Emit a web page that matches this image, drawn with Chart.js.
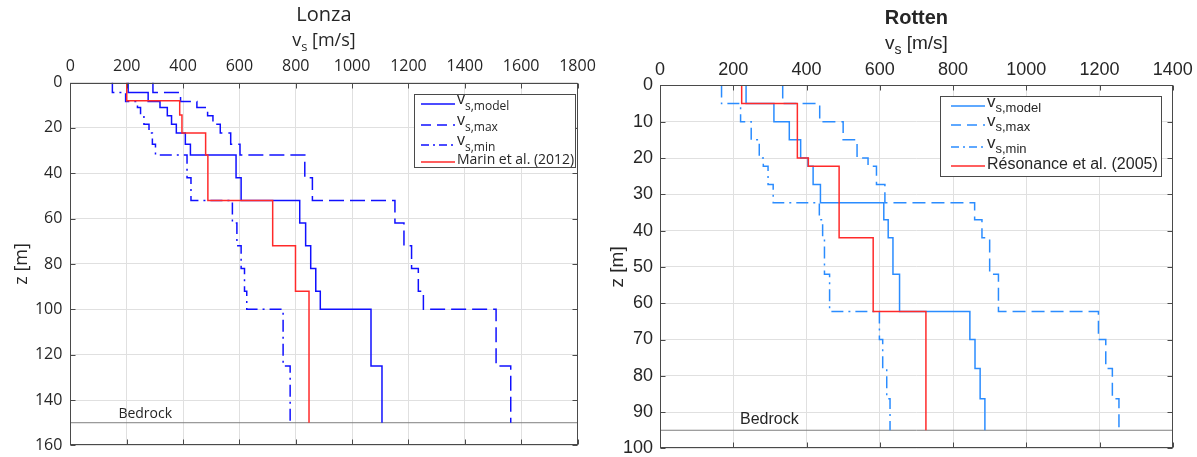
<!DOCTYPE html>
<html><head><meta charset="utf-8">
<script src="https://cdn.jsdelivr.net/npm/chart.js@4/dist/chart.umd.min.js"></script>
<style>
html,body{margin:0;padding:0;background:#fff;width:1197px;height:457px;overflow:hidden}
#c1{position:absolute;left:0;top:0}
#c2{position:absolute;left:600px;top:0}
</style></head><body>
<canvas id="c1" width="600" height="457"></canvas>
<canvas id="c2" width="597" height="457"></canvas>
<script>
// ---------- Lonza ----------
const lonzaDepth = [0, 4.4, 8.4, 11, 14.7, 18.4, 22.3, 27.2, 32, 42, 52, 62, 72, 82, 92, 100, 125, 150];
const lonzaModel = [205, 276, 318, 344, 359, 376, 408, 426, 588, 606, 814, 835, 853, 871, 887, 1067, 1106];
const lonzaMax   = [293, 391, 449, 487, 506, 532, 569, 602, 832, 859, 1152, 1184, 1211, 1235, 1253, 1511, 1563];
const lonzaMin   = [149, 196, 238, 249, 261, 279, 291, 302, 414, 428, 575, 591, 606, 618, 626, 755, 780];
const marinDepth = [0, 8, 14.3, 22.3, 32, 52, 72, 92, 150];
const marinVs    = [200, 388, 396, 480, 488, 718, 799, 847];
const lonzaBedrock = 150;
const lonzaXTicks = [0, 200, 400, 600, 800, 1000, 1200, 1400, 1600, 1800];
const lonzaZTicks = [0, 20, 40, 60, 80, 100, 120, 140, 160];

// ---------- Rotten ----------
const rottenDepth = [0, 5, 10, 15, 20, 22.3, 27.3, 32.3, 37, 42, 52, 62.3, 70, 78, 86.3, 95];
const rottenModel = [235, 311, 353, 384, 404, 418, 438, 611, 623, 636, 654, 846, 860, 874, 887];
const rottenMax   = [335, 436, 500, 538, 568, 591, 614, 859, 879, 900, 924, 1197, 1217, 1235, 1253];
const rottenMin   = [168, 220, 249, 271, 282, 295, 309, 435, 444, 449, 463, 599, 608, 619, 628];
const resonanceDepth = [0, 5, 20, 22.3, 42, 62.3, 95];
const resonanceVs    = [223, 375, 405, 489, 582, 726];
const rottenBedrock = 95;
const rottenXTicks = [0, 200, 400, 600, 800, 1000, 1200, 1400];
const rottenZTicks = [0, 10, 20, 30, 40, 50, 60, 70, 80, 90, 100];

// step profile: each layer drawn as vertical segment, joined by horizontal steps
function profile(depths, values) {
  const pts = [];
  values.forEach((v, i) => { pts.push({x: v, y: depths[i]}); pts.push({x: v, y: depths[i + 1]}); });
  return pts;
}

const decor = {
  id: 'decor',
  afterDatasetsDraw(chart, args, o) {
    const {ctx, chartArea: a, scales} = chart;
    const xs = scales.x, ys = scales.y;
    ctx.save();
    // bedrock label
    ctx.fillStyle = o.textColor; ctx.font = o.bedrockFont;
    ctx.textAlign = 'left'; ctx.textBaseline = 'alphabetic';
    ctx.fillText('Bedrock', a.left + o.bedrockDx, ys.getPixelForValue(o.bedrockDepth) - o.bedrockDy);
    // box + inward ticks
    ctx.strokeStyle = o.boxColor; ctx.lineWidth = 1;
    const L = Math.round(a.left) + 0.5, R = Math.round(a.right) - 0.5, T = Math.round(a.top) + 0.5, B = Math.round(a.bottom) - 0.5;
    ctx.strokeRect(L, T, R - L, B - T);
    ctx.beginPath();
    xs.ticks.forEach(t => { const p = Math.round(xs.getPixelForValue(t.value)) + 0.5;
      ctx.moveTo(p, T); ctx.lineTo(p, T + o.tickLen); ctx.moveTo(p, B); ctx.lineTo(p, B - o.tickLen); });
    ys.ticks.forEach(t => { const p = Math.round(ys.getPixelForValue(t.value)) + 0.5;
      ctx.moveTo(L, p); ctx.lineTo(L + o.tickLen, p); ctx.moveTo(R, p); ctx.lineTo(R - o.tickLen, p); });
    ctx.stroke();
    // legend
    const lg = o.legend;
    ctx.fillStyle = '#fff'; ctx.fillRect(lg.x, lg.y, lg.w, lg.h);
    ctx.strokeStyle = o.boxColor; ctx.lineWidth = 1;
    ctx.strokeRect(lg.x + 0.5, lg.y + 0.5, lg.w, lg.h);
    chart.data.datasets.filter(d => d.legendMain).sort((p, q) => p.legendIndex - q.legendIndex).forEach((d, i) => {
      const ly = lg.y + lg.rows[i];
      ctx.save();
      ctx.strokeStyle = d.borderColor; ctx.lineWidth = d.borderWidth;
      ctx.setLineDash(d.legendDash || []);
      ctx.beginPath(); ctx.moveTo(lg.x + lg.lineX0, ly); ctx.lineTo(lg.x + lg.lineX1, ly); ctx.stroke();
      ctx.restore();
      let tx = lg.x + lg.textX;
      ctx.fillStyle = o.textColor; ctx.textAlign = 'left';
      if (d.legendSub) {
        ctx.textBaseline = 'alphabetic';
        ctx.font = lg.mainFont; ctx.fillText(d.legendMain, tx, ly + lg.mainDy);
        tx += ctx.measureText(d.legendMain).width;
        ctx.font = lg.subFont; ctx.fillText(d.legendSub, tx, ly + lg.subDy);
      } else {
        ctx.textBaseline = 'middle'; ctx.font = lg.textFont;
        ctx.fillText(d.legendMain, tx, ly + lg.textDy);
      }
    });
    ctx.restore();
  },
  afterDraw(chart, args, o) {
    const {ctx, chartArea: a} = chart;
    const cx = (a.left + a.right) / 2;
    ctx.save();
    ctx.fillStyle = o.textColor;
    ctx.textAlign = 'center'; ctx.textBaseline = 'middle';
    ctx.font = o.titleFont; ctx.fillText(o.title, cx, o.titleY);
    // x axis title with subscript
    ctx.font = o.axisFont; const m = ctx.measureText('v').width; const r = ctx.measureText(' [m/s]').width;
    ctx.font = o.axisSubFont; const s = ctx.measureText('s').width;
    const x0 = cx - (m + s + r) / 2;
    ctx.textAlign = 'left'; ctx.textBaseline = 'alphabetic';
    ctx.font = o.axisFont; ctx.fillText('v', x0, o.axisY);
    ctx.font = o.axisSubFont; ctx.fillText('s', x0 + m, o.axisY + o.subDrop);
    ctx.font = o.axisFont; ctx.fillText(' [m/s]', x0 + m + s, o.axisY);
    // y axis title
    ctx.translate(o.yTitleX, (a.top + a.bottom) / 2);
    ctx.rotate(-Math.PI / 2);
    ctx.textAlign = 'center'; ctx.textBaseline = 'middle';
    ctx.font = o.axisFont; ctx.fillText('z [m]', 0, 0);
    ctx.restore();
  }
};

function makeChart(id, cfg) {
  const ds = (label, sub, depths, vals, color, dash, order, li) => ({
    label: label + (sub || ''), legendMain: label, legendSub: sub, legendIndex: li,
    data: profile(depths, vals), showLine: true, borderColor: color, backgroundColor: color,
    borderWidth: 1.5, borderDash: dash, legendDash: cfg.legendDash[li], pointRadius: 0, tension: 0, order: order,
    borderJoinStyle: 'miter', borderCapStyle: 'butt'
  });
  const datasets = [
    ds('v', 's,model', cfg.depth, cfg.model, cfg.blue, [], 3, 0),
    ds('v', 's,max', cfg.depth, cfg.max, cfg.blue, cfg.dash, 2, 1),
    ds('v', 's,min', cfg.depth, cfg.min, cfg.blue, cfg.dashDot, 1, 2),
    ds(cfg.refLabel, null, cfg.refDepth, cfg.refVs, cfg.red, [], 0, 3),
    { label: 'bedrock', data: [{x: cfg.xTicks[0], y: cfg.bedrock}, {x: cfg.xTicks[cfg.xTicks.length - 1], y: cfg.bedrock}],
      showLine: true, borderColor: '#7f7f7f', borderWidth: 1, pointRadius: 0, order: 9 }
  ];
  const tickFont = {family: cfg.family, size: cfg.tickSize};
  return new Chart(document.getElementById(id), {
    type: 'scatter',
    data: {datasets},
    options: {
      responsive: false, animation: false, devicePixelRatio: 1,
      events: [],
      layout: {padding: cfg.padding},
      scales: {
        x: {
          type: 'linear', position: 'top', min: cfg.xTicks[0], max: cfg.xTicks[cfg.xTicks.length - 1],
          afterBuildTicks: s => { s.ticks = cfg.xTicks.map(v => ({value: v})); },
          afterFit: s => { s.height = cfg.areaTop; s.paddingLeft = 0; s.paddingRight = 0; },
          grid: {color: '#e0e0e0', drawTicks: false, lineWidth: 1},
          border: {display: false},
          ticks: {font: tickFont, color: '#262626', padding: cfg.xPad, maxRotation: 0, autoSkip: false,
            callback: v => String(v)}
        },
        y: {
          type: 'linear', reverse: true, min: cfg.zTicks[0], max: cfg.zTicks[cfg.zTicks.length - 1],
          afterBuildTicks: s => { s.ticks = cfg.zTicks.map(v => ({value: v})); },
          afterFit: s => { s.width = cfg.areaLeft; s.paddingTop = 0; s.paddingBottom = 0; },
          grid: {color: '#e0e0e0', drawTicks: false, lineWidth: 1},
          border: {display: false},
          ticks: {font: tickFont, color: '#262626', padding: cfg.yPad, autoSkip: false,
            callback: v => String(v)}
        }
      },
      plugins: {
        legend: {display: false}, tooltip: {enabled: false}, title: {display: false},
        decor: cfg.decor
      }
    },
    plugins: [decor]
  });
}

makeChart('c1', {
  depth: lonzaDepth, model: lonzaModel, max: lonzaMax, min: lonzaMin,
  refDepth: marinDepth, refVs: marinVs, refLabel: 'Marin et al. (2012)', bedrock: lonzaBedrock,
  xTicks: lonzaXTicks, zTicks: lonzaZTicks,
  blue: '#1010ff', red: '#ff2a2a', dash: [15, 6], dashDot: [12, 5, 2, 5],
  legendDash: [[], [10, 6], [8, 4, 2, 4], []],
  family: "'Open Sans', sans-serif", tickSize: 16, xPad: 6, yPad: 8,
  areaLeft: 70.4, areaTop: 82.5, padding: {left: 0, top: 0, right: 22.5, bottom: 11.6},
  decor: {
    textColor: '#262626', boxColor: '#4a4a4a', tickLen: 5,
    title: 'Lonza', titleFont: "20px 'Open Sans', sans-serif", titleY: 15,
    axisFont: "18px 'Open Sans', sans-serif", axisSubFont: "13px 'Open Sans', sans-serif", axisY: 46, subDrop: 5,
    yTitleX: 22,
    bedrockFont: "14px 'Open Sans', sans-serif", bedrockDx: 48, bedrockDy: 5, bedrockDepth: lonzaBedrock,
    legend: {x: 414, y: 94, w: 161, h: 73, rows: [10, 31, 51, 68], lineX0: 7, lineX1: 41, textX: 43,
      mainFont: "16px 'Open Sans', sans-serif", subFont: "12px 'Open Sans', sans-serif", mainDy: 0, subDy: 6,
      textFont: "14px 'Open Sans', sans-serif", textDy: -2}
  }
});

makeChart('c2', {
  depth: rottenDepth, model: rottenModel, max: rottenMax, min: rottenMin,
  refDepth: resonanceDepth, refVs: resonanceVs, refLabel: 'Résonance et al. (2005)', bedrock: rottenBedrock,
  xTicks: rottenXTicks, zTicks: rottenZTicks,
  blue: '#2a8cff', red: '#ff2a2a', dash: [13, 6], dashDot: [12, 5, 2, 5],
  legendDash: [[], [10, 6], [8, 4, 2, 4], []],
  family: "'Liberation Sans', Arial, sans-serif", tickSize: 18, xPad: 5, yPad: 7,
  areaLeft: 60, areaTop: 85.4, padding: {left: 0, top: 0, right: 24.2, bottom: 8.6},
  decor: {
    textColor: '#262626', boxColor: '#4a4a4a', tickLen: 5,
    title: 'Rotten', titleFont: "bold 20px 'Liberation Sans', Arial, sans-serif", titleY: 18,
    axisFont: "19px 'Liberation Sans', Arial, sans-serif", axisSubFont: "14px 'Liberation Sans', Arial, sans-serif", axisY: 49, subDrop: 5,
    yTitleX: 18,
    bedrockFont: "16px 'Liberation Sans', Arial, sans-serif", bedrockDx: 80, bedrockDy: 6, bedrockDepth: rottenBedrock,
    legend: {x: 340, y: 96, w: 221, h: 80, rows: [10, 29, 51, 70], lineX0: 11, lineX1: 45, textX: 47,
      mainFont: "17px 'Liberation Sans', Arial, sans-serif", subFont: "13px 'Liberation Sans', Arial, sans-serif", mainDy: 1, subDy: 6,
      textFont: "16px 'Liberation Sans', Arial, sans-serif", textDy: -1}
  }
});
</script>
</body></html>
